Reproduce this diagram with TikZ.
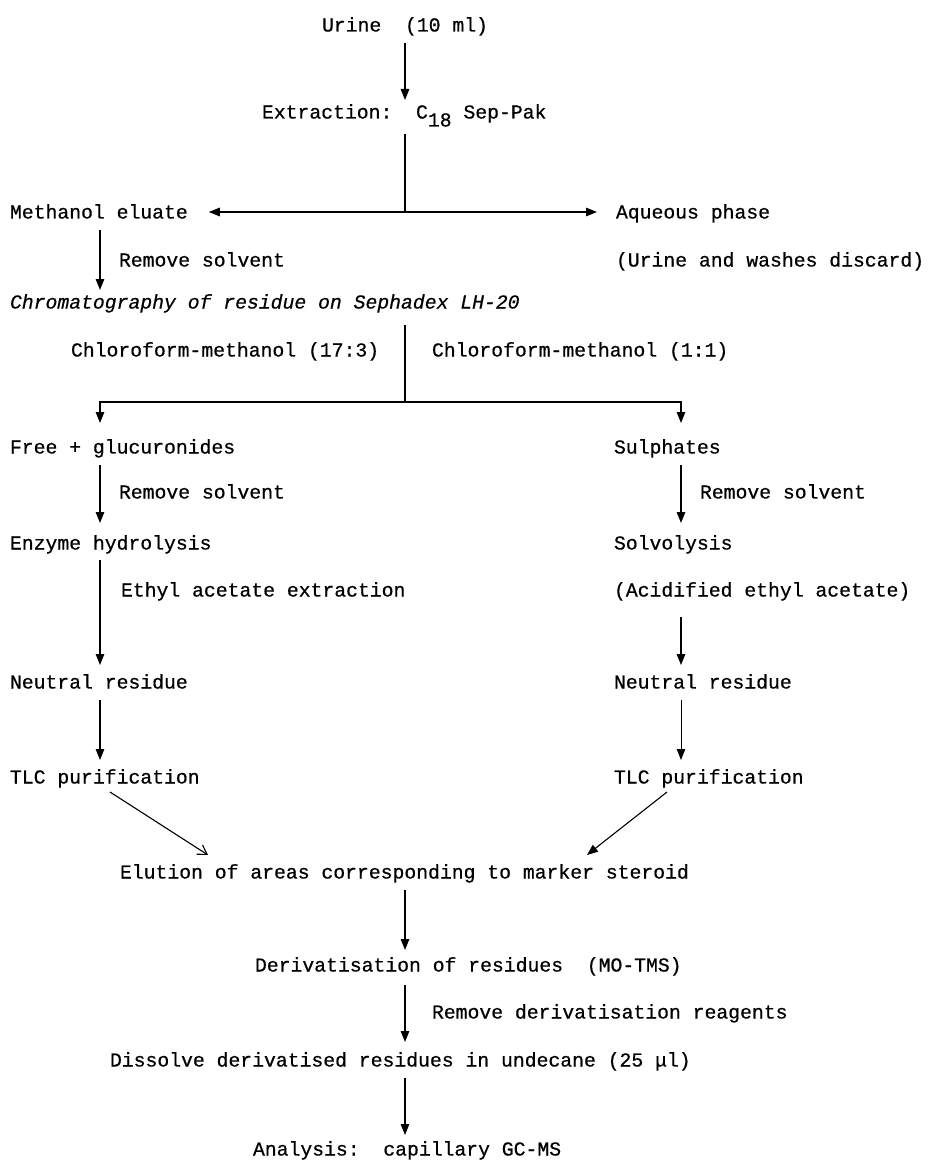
\documentclass[tikz,border=0pt]{standalone}
\usepackage{fontspec}
\setmainfont{Liberation Mono}[FakeBold=0.6]
\usetikzlibrary{arrows.meta}
\begin{document}
\begin{tikzpicture}[x=1pt,y=-1pt,
  txt/.style={inner sep=0pt, outer sep=0pt, text height=13pt, text depth=0pt,
              font=\fontsize{19.75pt}{24pt}\selectfont, anchor=west},
  ln/.style={line width=1.3pt},
  tip/.tip={Triangle[length=11pt,width=8.5pt]},
  arr/.style={ln, -tip},
  barb/.style={line width=1.1pt, -{Straight Barb[length=9pt,width=11pt]}}]
\useasboundingbox (0,0) rectangle (930,1161);
\coordinate (ax) at (405,0);
\coordinate (lx) at (100,0);
\coordinate (rx) at (681,0);
\coordinate (split1) at (405,212);
\coordinate (split2) at (405,402);

% texts
\node[txt, anchor=center] (urine) at (405,25) {Urine~~(10 ml)};
\node[txt] (extr) at (262,112) {Extraction:~~C\raisebox{-8pt}{18} Sep-Pak};
\node[txt] (meth) at (10,212) {Methanol eluate};
\node[txt] (aq) at (616,212) {Aqueous phase};
\node[txt] (rs1) at (119,260) {Remove solvent};
\node[txt] (disc) at (616,260) {(Urine and washes discard)};
\node[txt, font=\fontsize{19.75pt}{24pt}\selectfont\itshape] (chrom) at (10,302) {Chromatography of residue on Sephadex LH-20};
\node[txt] (cm1) at (71,350) {Chloroform-methanol (17:3)};
\node[txt] (cm2) at (432,350) {Chloroform-methanol (1:1)};
\node[txt] (free) at (10,447) {Free + glucuronides};
\node[txt] (sulph) at (614,447) {Sulphates};
\node[txt] (rs2) at (119,492) {Remove solvent};
\node[txt] (rs3) at (700,492) {Remove solvent};
\node[txt] (enz) at (10,543) {Enzyme hydrolysis};
\node[txt] (solv) at (614,543) {Solvolysis};
\node[txt] (eth) at (121,590) {Ethyl acetate extraction};
\node[txt] (acid) at (614,590) {(Acidified ethyl acetate)};
\node[txt] (neut1) at (10,682) {Neutral residue};
\node[txt] (neut2) at (614,682) {Neutral residue};
\node[txt] (tlc1) at (10,777) {TLC purification};
\node[txt] (tlc2) at (614,777) {TLC purification};
\node[txt] (elut) at (120,872) {Elution of areas corresponding to marker steroid};
\node[txt] (deriv) at (255,965) {Derivatisation of residues~~(MO-TMS)};
\node[txt] (remd) at (432,1012) {Remove derivatisation reagents};
\node[txt] (diss) at (110,1060) {Dissolve derivatised residues in undecane (25 μl)};
\node[txt] (anal) at (253,1149) {Analysis:~~capillary GC-MS};

% connectors
\draw[arr, shorten <=11.5pt, shorten >=5.5pt] (urine.south -| ax) -- (extr.north -| ax);
\draw[ln, shorten <=16pt] (extr.south -| ax) -- (split1);
\draw[ln, tip-tip, shorten <=21pt, shorten >=19pt] (meth.east) -- (aq.west);
\draw[arr, shorten <=11.5pt, shorten >=5.5pt] (meth.south -| lx) -- (chrom.north -| lx);
\draw[ln, shorten <=16pt] (chrom.south -| ax) -- (split2);
\draw[arr, shorten >=17.5pt] (split2) -| (free.north -| lx);
\draw[arr, shorten >=17.5pt] (split2) -| (sulph.north -| rx);
\draw[arr, shorten <=11.5pt, shorten >=13.5pt] (free.south -| lx) -- (enz.north -| lx);
\draw[arr, shorten <=11.5pt, shorten >=13.5pt] (sulph.south -| rx) -- (solv.north -| rx);
\draw[arr, shorten <=10.5pt, shorten >=10.5pt] (enz.south -| lx) -- (neut1.north -| lx);
\draw[arr, shorten <=20.5pt, shorten >=10.5pt] (acid.south -| rx) -- (neut2.north -| rx);
\draw[arr, shorten <=11.5pt, shorten >=10.5pt] (neut1.south -| lx) -- (tlc1.north -| lx);
\draw[arr, line width=1pt, shorten <=11.5pt, shorten >=10.5pt] (neut2.south -| rx) -- (tlc2.north -| rx);
\draw[barb] ([shift={(100,8.5)}]tlc1.south west) -- ([shift={(88,-10.5)}]elut.north west);
\draw[arr, line width=1.1pt] ([shift={(53,8.5)}]tlc2.south west) -- ([shift={(-102,-10.5)}]elut.north east);
\draw[arr, shorten <=11.5pt, shorten >=8.5pt] (elut.south -| ax) -- (deriv.north -| ax);
\draw[arr, shorten <=13.5pt, shorten >=11.5pt] (deriv.south -| ax) -- (diss.north -| ax);
\draw[arr, shorten <=11.5pt, shorten >=7.5pt] (diss.south -| ax) -- (anal.north -| ax);
\end{tikzpicture}
\end{document}
